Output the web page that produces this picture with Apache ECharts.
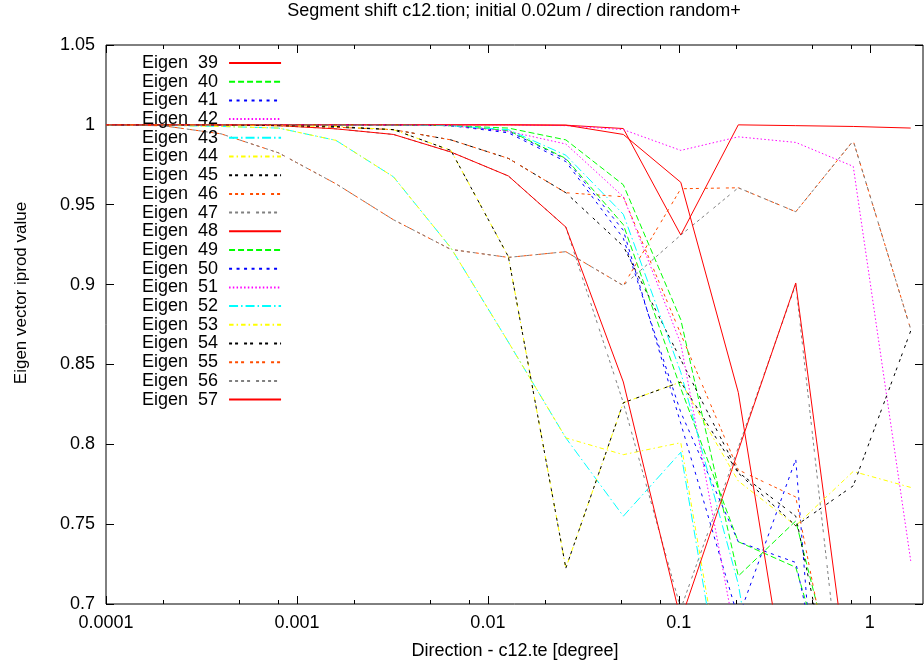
<!DOCTYPE html>
<html>
<head>
<meta charset="utf-8">
<title>Segment shift</title>
<script src="https://cdn.jsdelivr.net/npm/echarts@6/dist/echarts.min.js"></script>
<style>
  html, body { margin: 0; padding: 0; background: #fff; }
  #main { width: 924px; height: 668px; }
</style>
</head>
<body>
<div id="main"></div>
<script>
// direction (degree), doubling each step
var directions = [0.0001, 0.0002, 0.0004, 0.0008, 0.0016, 0.0032, 0.0064, 0.0128, 0.0256, 0.0512, 0.1024, 0.2048, 0.4096, 0.8192, 1.6384];

// eigen vector iprod values, one list per eigen vector
var eigen39 = [1, 1, 1, 1, 1, 1, 1, 1, 0.9998, 0.9977, 0.931, 1.0, 0.9995, 0.999, 0.998];
var eigen40 = [1, 1, 1, 1, 1, 1, 0.9995, 0.998, 0.9906, 0.9625, 0.878, 0.7175, 0.752, 0.61, 0.55];
var eigen41 = [1, 1, 1, 1, 1, 1, 0.9995, 0.996, 0.9785, 0.934, 0.813, 0.691, 0.7906, 0.33, 0.3];
var eigen42 = [1, 1, 1, 1, 1, 1, 1, 1, 0.9995, 0.997, 0.984, 0.9925, 0.989, 0.974, 0.727];
var eigen43 = [1, 0.9997, 0.999, 0.998, 0.9903, 0.9675, 0.923, 0.864, 0.804, 0.755, 0.795, 0.583, 0.5, 0.45, 0.4];
var eigen44 = [1, 0.9997, 0.999, 0.998, 0.9903, 0.9675, 0.923, 0.864, 0.804, 0.7935, 0.801, 0.59, 0.5, 0.45, 0.4];
var eigen45 = [1, 1, 1, 0.9995, 0.9985, 0.997, 0.9906, 0.979, 0.9575, 0.924, 0.853, 0.7825, 0.755, 0.58, 0.5];
var eigen46 = [1, 1, 1, 0.9995, 0.9985, 0.997, 0.9906, 0.979, 0.9575, 0.955, 0.869, 0.784, 0.767, 0.583, 0.5];
var eigen47 = [1, 1, 1, 0.9995, 0.9975, 0.994, 0.983, 0.968, 0.936, 0.826, 0.697, 0.798, 0.9, 0.577, 0.5];
var eigen48 = [1, 1, 1, 0.9995, 0.9975, 0.994, 0.983, 0.968, 0.936, 0.839, 0.69, 0.796, 0.901, 0.628, 0.55];
var eigen49 = [1, 1, 1, 1, 1, 1, 0.9995, 0.9965, 0.979, 0.9375, 0.835, 0.739, 0.723, 0.6, 0.55];
var eigen50 = [1, 1, 1, 1, 1, 1, 0.9995, 0.995, 0.977, 0.929, 0.82, 0.739, 0.726, 0.56, 0.5];
var eigen51 = [1, 1, 1, 1, 1, 1, 0.9995, 0.996, 0.988, 0.955, 0.863, 0.67, 0.5, 0.45, 0.4];
var eigen52 = [1, 1, 1, 1, 1, 1, 0.9995, 0.997, 0.981, 0.944, 0.845, 0.7125, 0.5, 0.45, 0.4];
var eigen53 = [1, 1, 1, 0.9995, 0.999, 0.997, 0.984, 0.9175, 0.7225, 0.826, 0.839, 0.777, 0.749, 0.783, 0.773];
var eigen54 = [1, 1, 1, 0.9995, 0.999, 0.997, 0.984, 0.9175, 0.7225, 0.826, 0.839, 0.782, 0.749, 0.774, 0.871];
var eigen55 = [1, 0.9994, 0.9944, 0.9825, 0.9631, 0.9406, 0.922, 0.917, 0.9206, 0.8994, 0.96, 0.9606, 0.9456, 0.99, 0.872];
var eigen56 = [1, 0.9994, 0.9944, 0.9825, 0.9631, 0.9406, 0.922, 0.917, 0.9206, 0.8994, 0.931, 0.9606, 0.9456, 0.99, 0.872];
var eigen57 = [1, 1, 1, 1, 1, 1, 1, 1, 0.9998, 0.994, 0.964, 0.8325, 0.609, 0.55, 0.5];

var eigenNames = ['Eigen  39', 'Eigen  40', 'Eigen  41', 'Eigen  42', 'Eigen  43', 'Eigen  44', 'Eigen  45',
  'Eigen  46', 'Eigen  47', 'Eigen  48', 'Eigen  49', 'Eigen  50', 'Eigen  51', 'Eigen  52', 'Eigen  53',
  'Eigen  54', 'Eigen  55', 'Eigen  56', 'Eigen  57'];
var eigenValues = [eigen39, eigen40, eigen41, eigen42, eigen43, eigen44, eigen45, eigen46, eigen47, eigen48,
  eigen49, eigen50, eigen51, eigen52, eigen53, eigen54, eigen55, eigen56, eigen57];

// axis ticks
var xTickValues = [0.0001, 0.001, 0.01, 0.1, 1];
var xTickLabels = ['0.0001', '0.001', '0.01', '0.1', '1'];
var xMinorTicks = [0.0002, 0.0005, 0.0008, 0.002, 0.005, 0.008, 0.02, 0.05, 0.08, 0.2, 0.5, 0.8];

// gnuplot style line types (cycled every 9)
var lineColors = ['#ff0000', '#00ff00', '#0000ff', '#ff00ff', '#00ffff', '#ffff00', '#000000', '#ff4d00', '#808080'];
var lineDashes = ['solid', [6, 3], [3, 4.5], [1.5, 2.25], [9, 3, 1.5, 3], [4.5, 3, 1.5, 3], [3, 3, 3, 6],
  [3, 3, 3, 3, 3, 6], [3, 3, 3, 3, 3, 3, 3, 6]];

var FONT = 'Liberation Sans, Arial, sans-serif';

var chart = echarts.init(document.getElementById('main'), null, { renderer: 'canvas' });

var series = eigenValues.map(function (vals, i) {
  return {
    name: eigenNames[i],
    type: 'line',
    symbol: 'none',
    clip: true,
    data: vals.map(function (v, k) { return [directions[k], v]; }),
    lineStyle: { color: lineColors[i % 9], width: 1, type: lineDashes[i % 9] },
    itemStyle: { color: lineColors[i % 9] },
    emphasis: { disabled: true }
  };
});

function xLabel(v) {
  for (var i = 0; i < xTickValues.length; i++) {
    if (Math.abs(Math.log10(xTickValues[i]) - Math.log10(v)) < 1e-6) return xTickLabels[i];
  }
  return '';
}

function logAxis(position, ticks, len, withLabels) {
  return {
    type: 'log',
    logBase: 10,
    min: 0.0001,
    max: 1.9,
    position: position,
    axisLine: { show: false },
    splitLine: { show: false },
    axisTick: { inside: true, length: len, lineStyle: { color: '#000', width: 1 }, customValues: ticks },
    axisLabel: withLabels ? {
      customValues: xTickValues,
      formatter: xLabel,
      color: '#000',
      fontSize: 18,
      fontFamily: FONT,
      margin: 10
    } : { show: false }
  };
}

function valAxis(position, withLabels) {
  return {
    type: 'value',
    min: 0.7,
    max: 1.05,
    interval: 0.05,
    position: position,
    axisLine: { show: false },
    splitLine: { show: false },
    axisTick: { inside: true, length: 8, lineStyle: { color: '#000', width: 1 } },
    axisLabel: withLabels ? { color: '#000', fontSize: 18, fontFamily: FONT, margin: 11 } : { show: false }
  };
}

chart.setOption({
  animation: false,
  backgroundColor: '#fff',
  grid: {
    left: 106, right: 1, top: 45, bottom: 64,
    show: true, borderColor: '#000', borderWidth: 1, backgroundColor: 'transparent'
  },
  legend: {
    data: eigenNames,
    orient: 'vertical',
    left: 137,
    top: 49,
    align: 'right',
    itemWidth: 52,
    itemHeight: 10,
    itemGap: 0.7,
    selectedMode: false,
    itemStyle: { opacity: 0 },
    textStyle: { color: '#000', fontSize: 18, fontFamily: FONT, lineHeight: 18, padding: [0, 6, 0, 0] }
  },
  xAxis: [
    logAxis('bottom', xTickValues, 8, true),
    logAxis('bottom', xMinorTicks, 4, false),
    logAxis('top', xTickValues, 8, false),
    logAxis('top', xMinorTicks, 4, false)
  ],
  yAxis: [valAxis('left', true), valAxis('right', false)],
  graphic: [
    {
      type: 'text', x: 514, y: 11,
      style: { text: 'Segment shift c12.tion; initial 0.02um / direction random+', font: '18px ' + FONT,
        fill: '#000', textAlign: 'center', textVerticalAlign: 'middle' }
    },
    {
      type: 'text', x: 515, y: 651,
      style: { text: 'Direction - c12.te [degree]', font: '18px ' + FONT,
        fill: '#000', textAlign: 'center', textVerticalAlign: 'middle' }
    },
    {
      type: 'text', x: 21, y: 293, rotation: Math.PI / 2,
      style: { text: 'Eigen vector iprod value', font: '17px ' + FONT,
        fill: '#000', textAlign: 'center', textVerticalAlign: 'middle' }
    }
  ],
  series: series
});
</script>
</body>
</html>
